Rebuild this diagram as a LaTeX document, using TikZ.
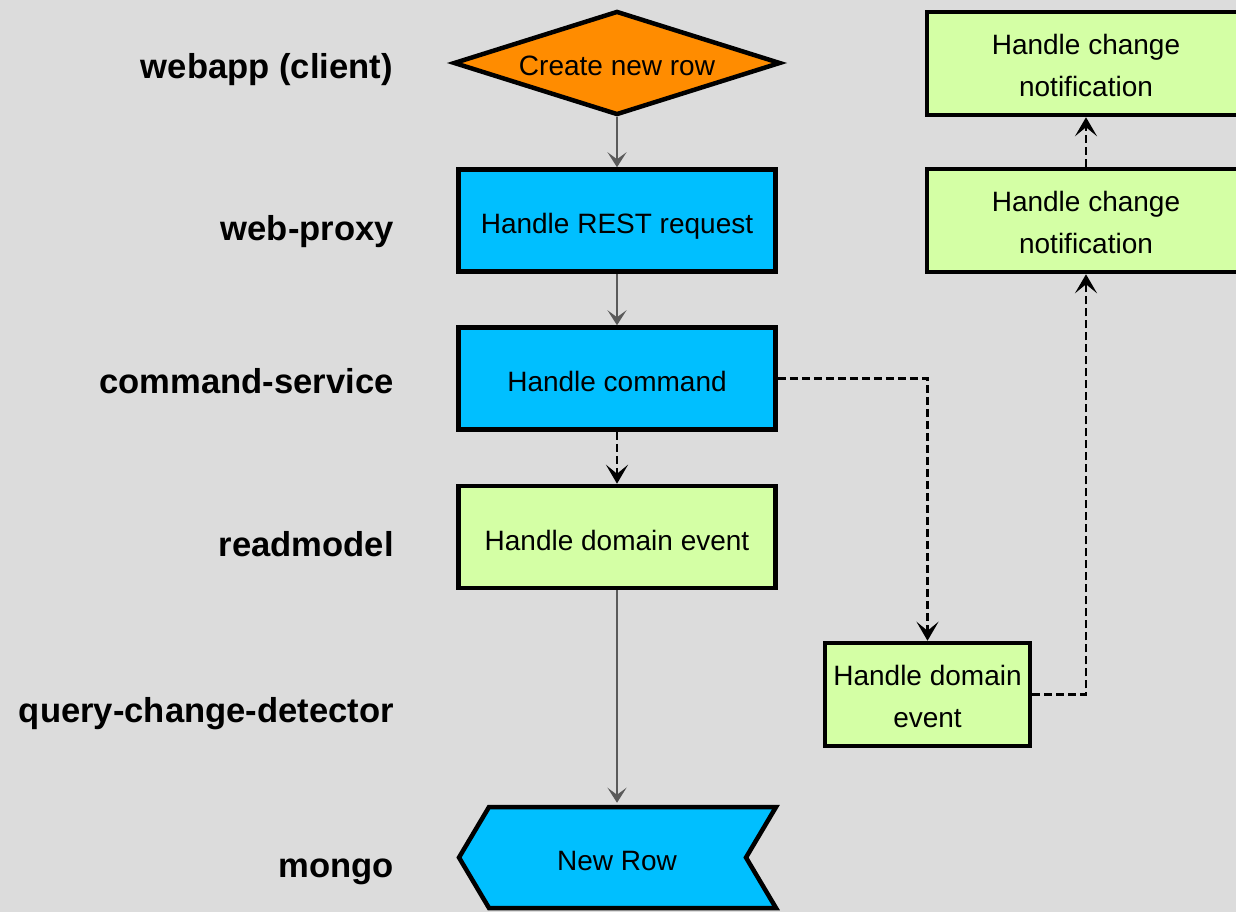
\documentclass[tikz,border=0pt]{standalone}
\usepackage{fontspec}
\setmainfont{Liberation Sans}
\usetikzlibrary{arrows.meta,shapes.geometric}
\definecolor{bg}{HTML}{DCDCDC}
\definecolor{orng}{HTML}{FF8C00}
\definecolor{sky}{HTML}{00BFFF}
\definecolor{lime}{HTML}{D4FFA5}
\definecolor{thinc}{HTML}{5A5A5A}
\begin{document}
\begin{tikzpicture}[x=1pt,y=-1pt,
  boxtxt/.style={font=\fontsize{28}{42.4}\selectfont, align=center, text=black},
  oneline/.style={text height=26pt, text depth=0pt},
  box/.style={boxtxt, draw=black, line width=4.5pt, minimum width=317pt, minimum height=102pt, inner sep=0pt},
  lab/.style={anchor=base east, inner sep=0pt, font=\fontsize{34.6}{40}\selectfont\bfseries, text=black},
  solidconn/.style={-{Stealth[length=15pt,width=19pt,inset=7pt]}, draw=thinc, line width=1.3pt},
  dashconn/.style={-{Stealth[length=19pt,width=22pt,inset=9pt]}, draw=black, line width=2.5pt, dash pattern=on 8pt off 4pt},
]
\clip (0,0) rectangle (1236,912);
\fill[bg] (0,0) rectangle (1236,912);

% lane labels
\node[lab] (l1) at (393,79) {webapp (client)};
\node[lab] (l2) at (394,240) {web-proxy};
\node[lab] (l3) at (394,393) {command-service};
\node[lab] (l4) at (394,556) {readmodel};
\node[lab] (l5) at (394,722) {query-change-detector};
\node[lab] (l6) at (394,877) {mongo};

% shapes
\node[boxtxt, oneline, shape=diamond, aspect=3.14, draw=black, fill=orng, line width=4.5pt, minimum width=327pt, minimum height=104pt, inner sep=0pt] (create) at (617,63) {Create new row};
\node[box, oneline, fill=sky] (rest) at (617,220.5) {Handle REST request};
\node[box, oneline, fill=sky] (cmd) at (617,378.5) {Handle command};
\node[box, oneline, fill=lime] (dom) at (617,537) {Handle domain event};
\node[box, fill=lime, minimum width=205pt, minimum height=103pt] (dom2) at (927.5,694.5) {\rule{0pt}{24pt}Handle domain\\event};
\node[box, fill=lime, minimum width=318pt, minimum height=103pt] (not2) at (1086,220.5) {\rule{0pt}{24pt}Handle change\\notification};
\node[box, fill=lime, minimum width=318pt, minimum height=103pt] (not1) at (1086,63.5) {\rule{0pt}{24pt}Handle change\\notification};

% New Row chevron
\draw[fill=sky, line width=4.5pt, line join=miter] (489,807) -- (776,807) -- (746,857.5) -- (776,908) -- (489,908) -- (459,857.5) -- cycle;
\node[boxtxt, oneline, minimum width=287pt, minimum height=105pt, inner sep=0pt, outer sep=2.25pt] (row) at (617,857.5) {New Row};

% connectors
\draw[solidconn] (create.south) -- (rest.north);
\draw[solidconn] (rest.south) -- (cmd.north);
\draw[dashconn] (cmd.south) -- (dom.north);
\draw[solidconn] (dom.south) -- (row.north);
\draw[dashconn] (cmd.east) -| (dom2.north);
\draw[dashconn] (dom2.east) -| (not2.south);
\draw[dashconn] (not2.north) -- (not1.south);
\end{tikzpicture}
\end{document}
